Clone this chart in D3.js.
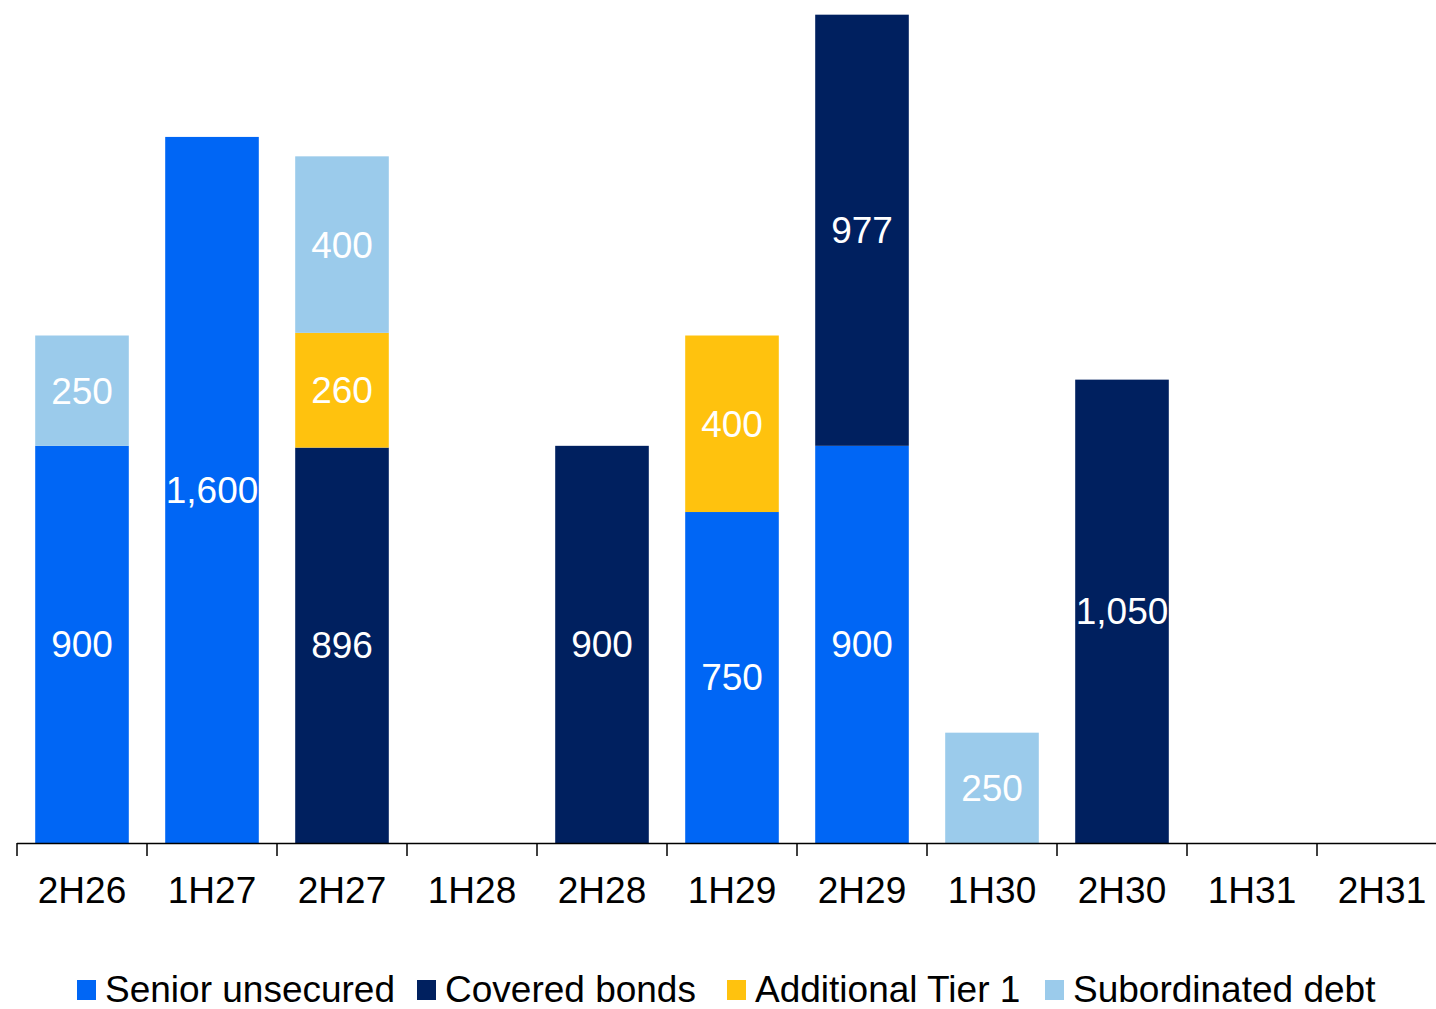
<!DOCTYPE html>
<meta charset="utf-8">
<style>
body { margin: 0; background: #fff; }
text { font-family: "Liberation Sans", Arial, sans-serif; }
</style>
<body>
<script src="https://d3js.org/d3.v7.min.js"></script>
<div id="draw"></div>
<script>

var categories = ["2H26", "1H27", "2H27", "1H28", "2H28", "1H29", "2H29", "1H30", "2H30", "1H31", "2H31"];
var seriesNames = ["Senior unsecured", "Covered bonds", "Additional Tier 1", "Subordinated debt"];
var seniorUnsecured = [900, 1600, 0, 0, 0, 750, 900, 0, 0, 0, 0];
var coveredBonds    = [0, 0, 896, 0, 900, 0, 977, 0, 1050, 0, 0];
var additionalTier1 = [0, 0, 260, 0, 0, 400, 0, 0, 0, 0, 0];
var subordinatedDebt = [250, 0, 400, 0, 0, 0, 0, 250, 0, 0, 0];
var colors = ["#0066f5", "#00205f", "#ffc20e", "#9bcbeb"];

// stack order: senior, covered, AT1, sub
var series = [seniorUnsecured, coveredBonds, additionalTier1, subordinatedDebt];

var width = 1436, height = 1009;

var svg = d3.select("#draw").append("svg")
    .attr("width", width)
    .attr("height", height);

var x = d3.scaleBand()
    .domain(categories)
    .range([17, 17 + 130 * categories.length])
    .paddingInner(0.28)
    .paddingOuter(0.14);

var y = d3.scaleLinear()
    .domain([0, 1900])
    .range([843, 843 - 1900 * 0.4413]);

var table = categories.map(function(c, i) {
  var row = {cat: c};
  seriesNames.forEach(function(s, j) { row[s] = series[j][i]; });
  return row;
});

var stack = d3.stack().keys(seriesNames)(table);

var layers = svg.selectAll(".layer")
    .data(stack)
    .enter().append("g")
    .attr("class", "layer")
    .attr("fill", function(d, i) { return colors[i]; });

layers.selectAll("rect")
    .data(function(d) { return d.filter(function(p) { return p[1] - p[0] > 0; }); })
    .enter().append("rect")
    .attr("x", function(d) { return x(d.data.cat); })
    .attr("width", x.bandwidth())
    .attr("y", function(d) { return y(d[1]); })
    .attr("height", function(d) { return y(d[0]) - y(d[1]); });

var fmt = d3.format(",");
layers.selectAll("text")
    .data(function(d) { return d.filter(function(p) { return p[1] - p[0] > 0; }); })
    .enter().append("text")
    .attr("x", function(d) { return x(d.data.cat) + x.bandwidth() / 2; })
    .attr("y", function(d) { return (y(d[0]) + y(d[1])) / 2; })
    .attr("dy", "0.35em")
    .attr("text-anchor", "middle")
    .attr("fill", "#fff")
    .style("font-size", "37px")
    .text(function(d) { return fmt(d[1] - d[0]); });

// axis
var axisG = svg.append("g");
axisG.append("line")
    .attr("x1", 17).attr("x2", width)
    .attr("y1", 843.5).attr("y2", 843.5)
    .attr("stroke", "#000").attr("stroke-width", 1.5);

categories.forEach(function(c) {
  // tick at the left edge of each band
  var left = x(c) - (x.step() - x.bandwidth()) / 2;
  axisG.append("line")
      .attr("x1", left).attr("x2", left)
      .attr("y1", 843).attr("y2", 856)
      .attr("stroke", "#000").attr("stroke-width", 1.5);
  axisG.append("text")
      .attr("x", x(c) + x.bandwidth() / 2)
      .attr("y", 903)
      .attr("text-anchor", "middle")
      .attr("fill", "#000")
      .style("font-size", "37px")
      .text(c);
});

// legend
var legendX = [77, 417, 727, 1045];
var legend = svg.selectAll(".legend")
    .data(seriesNames)
    .enter().append("g")
    .attr("class", "legend")
    .attr("transform", function(d, i) { return "translate(" + legendX[i] + ",0)"; });

legend.append("rect")
    .attr("y", 980)
    .attr("width", 19)
    .attr("height", 20)
    .attr("fill", function(d, i) { return colors[i]; });

legend.append("text")
    .attr("x", 28)
    .attr("y", 1002)
    .attr("fill", "#000")
    .style("font-size", "37px")
    .text(function(d) { return d; });

</script>
